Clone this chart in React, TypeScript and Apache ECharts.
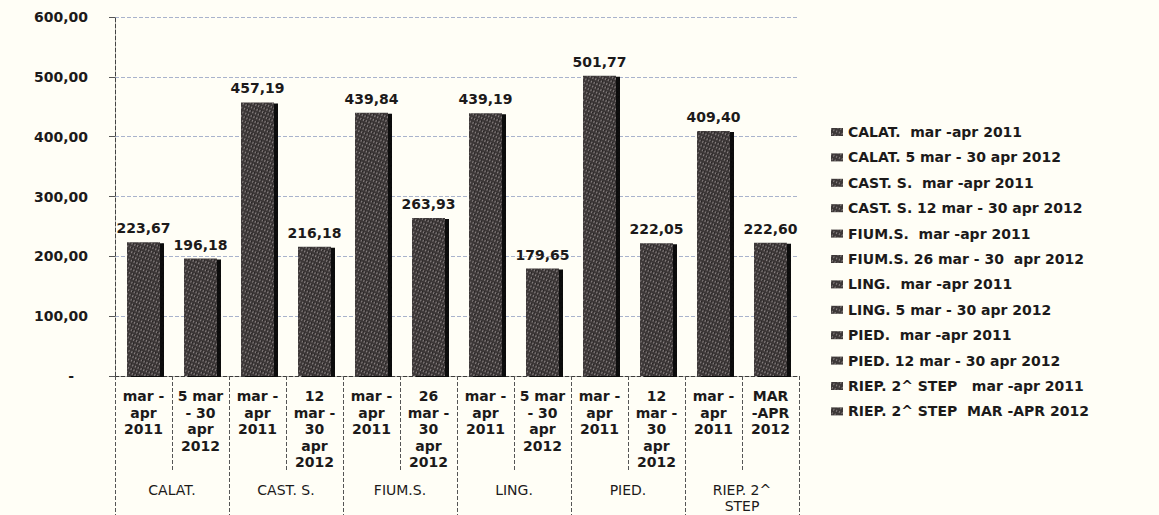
import React, { useEffect, useRef } from "react";
import * as echarts from "echarts";

const periodLabels = [
  "mar -\napr\n2011",
  "5 mar\n- 30\napr\n2012",
  "mar -\napr\n2011",
  "12\nmar -\n30\napr\n2012",
  "mar -\napr\n2011",
  "26\nmar -\n30\napr\n2012",
  "mar -\napr\n2011",
  "5 mar\n- 30\napr\n2012",
  "mar -\napr\n2011",
  "12\nmar -\n30\napr\n2012",
  "mar -\napr\n2011",
  "MAR\n-APR\n2012",
];

const groupLabels = ["CALAT.", "CAST. S.", "FIUM.S.", "LING.", "PIED.", "RIEP. 2^\nSTEP"];

const values = [223.67, 196.18, 457.19, 216.18, 439.84, 263.93, 439.19, 179.65, 501.77, 222.05, 409.4, 222.6];

const seriesNames = [
  "CALAT.  mar -apr 2011",
  "CALAT. 5 mar - 30 apr 2012",
  "CAST. S.  mar -apr 2011",
  "CAST. S. 12 mar - 30 apr 2012",
  "FIUM.S.  mar -apr 2011",
  "FIUM.S. 26 mar - 30  apr 2012",
  "LING.  mar -apr 2011",
  "LING. 5 mar - 30 apr 2012",
  "PIED.  mar -apr 2011",
  "PIED. 12 mar - 30 apr 2012",
  "RIEP. 2^ STEP   mar -apr 2011",
  "RIEP. 2^ STEP  MAR -APR 2012",
];

const yTicks = { min: 0, max: 600, interval: 100 };

const FONT = "DejaVu Sans";
const TEXT = "#1c1a1a";
const W = "bold";

export default function App() {
  const ref = useRef<HTMLDivElement>(null);
  useEffect(() => {
    if (!ref.current) return;
    const chart = echarts.init(ref.current, null, { renderer: "svg" });
    const fmt = (v: number) => v.toFixed(2).replace(".", ",");
    const decal = {
      symbol: "rect",
      symbolSize: 1,
      dashArrayX: [1, 2],
      dashArrayY: [2, 2],
      rotation: 0.4,
      color: "rgba(255,245,245,0.38)",
    };
    const barStyle = {
      color: "#3d3838",
      shadowColor: "#0d0b0b",
      shadowOffsetX: 4,
      shadowOffsetY: 1,
      shadowBlur: 0,
      decal,
    };
    const series = values.map((v, i) => ({
      type: "bar",
      name: seriesNames[i],
      stack: "all",
      barWidth: 33,
      xAxisIndex: 0,
      data: values.map((_, j) => (j === i ? v : "-")),
      itemStyle: barStyle,
      label: {
        show: true,
        position: "top",
        distance: 7,
        formatter: (p: any) => fmt(p.value),
        fontFamily: FONT,
        fontWeight: W,
        fontSize: 14,
        color: TEXT,
      },
    }));
    chart.setOption({
      animation: false,
      backgroundColor: "#fffef6",
      aria: { enabled: true, decal: { show: true, decals: [decal] } },
      textStyle: { fontFamily: FONT, color: TEXT },
      grid: { left: 115, right: 360, top: 17, bottom: 139, containLabel: false },
      legend: {
        orient: "vertical",
        left: 826,
        top: 119,
        itemWidth: 12,
        itemHeight: 8,
        itemGap: 9.4,
        icon: "rect",
        data: seriesNames,
        textStyle: { fontFamily: FONT, fontWeight: W, fontSize: 14, color: TEXT, lineHeight: 16 },
      },
      xAxis: [
        {
          type: "category",
          data: periodLabels,
          position: "bottom",
          axisLine: { show: true, lineStyle: { color: "#3a3a3a", type: "dashed", width: 1 } },
          axisTick: { show: true, interval: 0, length: 94, lineStyle: { color: "#555", type: "dashed" } },
          axisLabel: {
            interval: 0,
            margin: 12,
            fontFamily: FONT,
            fontWeight: W,
            fontSize: 14,
            lineHeight: 16.5,
            color: TEXT,
          },
          splitLine: { show: false },
        },
        {
          type: "category",
          data: groupLabels,
          position: "bottom",
          axisLine: { show: false },
          axisTick: { show: true, interval: 0, length: 139, lineStyle: { color: "#555", type: "dashed" } },
          axisLabel: {
            interval: 0,
            margin: 106,
            fontFamily: FONT,
            fontSize: 14,
            lineHeight: 16,
            color: TEXT,
          },
          splitLine: { show: false },
        },
      ],
      yAxis: {
        type: "value",
        min: yTicks.min,
        max: yTicks.max,
        interval: yTicks.interval,
        axisLine: { show: true, lineStyle: { color: "#444", type: "dashed" } },
        axisTick: { show: true, length: 6, lineStyle: { color: "#555" } },
        splitLine: { show: true, lineStyle: { color: "#a9b3cc", type: "dashed", width: 1 } },
        axisLabel: {
          margin: 27,
          fontFamily: FONT,
          fontWeight: W,
          fontSize: 14,
          color: TEXT,
          formatter: (v: number) => (v === 0 ? "{z|-}" : fmt(v)),
          rich: { z: { padding: [0, 14, 0, 0], fontSize: 14, fontWeight: W, color: TEXT } },
        },
      },
      series,
    });
    return () => chart.dispose();
  }, []);
  return <div ref={ref} style={{ width: 1159, height: 515, position: "absolute", left: 0, top: 0 }} />;
}
